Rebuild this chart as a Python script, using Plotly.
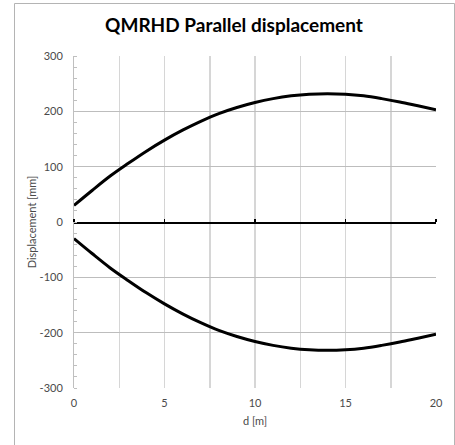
import plotly.graph_objects as go

d_m = [0, 1, 2, 3, 4, 5, 6, 7, 8, 9, 10, 11, 12, 13, 14, 15, 16, 17, 18, 19, 20]
disp_upper = [30, 57, 83, 106, 128, 148, 166, 182, 196, 207, 216, 223, 228, 231, 232, 231, 228, 223, 217, 210, 203]
disp_lower = [-30, -57, -83, -106, -128, -148, -166, -182, -196, -207, -216, -223, -228, -231, -232, -231, -228, -223, -217, -210, -203]

x_ticks = [0, 5, 10, 15, 20]
y_ticks = [-300, -200, -100, 0, 100, 200, 300]
y_ticktext = ["-300", "-200", "-100", "0", "100", "200", "300"]

W, H = 455, 445
L, R, T, B = 74, 19, 56, 57
pw, ph = W - L - R, H - T - B

def px_x(px):
    return (px - L) / pw

def px_y(py):
    return (H - B - py) / ph

FONT = "Lato"
TXT = "#4a4a4a"

fig = go.Figure()
for ys in (disp_upper, disp_lower):
    fig.add_trace(go.Scatter(x=d_m, y=ys, mode="lines", line=dict(color="black", width=3, shape="spline"),
                             showlegend=False, hoverinfo="skip"))
fig.add_trace(go.Scatter(x=[0, 20], y=[0, 0], xaxis="x2", mode="lines", line=dict(color="rgba(0,0,0,0)"),
                         showlegend=False, hoverinfo="skip"))

fig.update_layout(
    width=W, height=H,
    margin=dict(l=L, r=R, t=T, b=B),
    paper_bgcolor="white", plot_bgcolor="white",
    font=dict(family=FONT, size=11, color=TXT),
    title=dict(text="<b>QMRHD Parallel displacement</b>", x=px_x(234), xref="paper", xanchor="center",
               y=1 - 25 / H, yanchor="middle", font=dict(family=FONT, size=19, color="black")),
    xaxis=dict(range=[0, 20], tickvals=x_ticks, showgrid=True, gridcolor="#d6d6d6", gridwidth=1.5,
               minor=dict(dtick=2.5, tick0=0, showgrid=True, gridcolor="#d6d6d6", gridwidth=1.5),
               showline=False, zeroline=False, ticks="", tickfont=dict(size=11, color=TXT),
               ticklabelstandoff=7,
               title=dict(text="d [m]", font=dict(size=11, color=TXT), standoff=9),
               fixedrange=True),
    xaxis2=dict(range=[0, 20], overlaying="x", anchor="free", position=0.5, side="top",
                showline=True, linecolor="black", linewidth=1.5, ticks="outside", ticklen=3,
                tickcolor="black", tickwidth=1.5, tickvals=x_ticks, showticklabels=False,
                showgrid=False, zeroline=False, fixedrange=True),
    yaxis=dict(range=[-300, 300], tickmode="array", tickvals=y_ticks, ticktext=y_ticktext,
               showgrid=True, gridcolor="#bdbdbd", gridwidth=1,
               showline=True, linecolor="#bfbfbf", linewidth=1, ticks="", zeroline=False,
               ticklabelstandoff=8,
               minor=dict(dtick=20, tick0=0, ticks="inside", ticklen=3, tickcolor="#bfbfbf", showgrid=False),
               tickfont=dict(size=11, color=TXT),
               title=dict(text="Displacement [mm]", font=dict(size=11, color=TXT), standoff=0),
               fixedrange=True),
    shapes=[dict(type="rect", xref="paper", yref="paper", x0=px_x(14.5), x1=px_x(454.5),
                 y0=px_y(447), y1=px_y(3.5), line=dict(color="#b4b4b4", width=1), layer="below")],
)

fig.write_html("out.html", config={"displayModeBar": False, "staticPlot": True},
               post_script="document.body.style.margin='0';document.body.style.padding='0';")
